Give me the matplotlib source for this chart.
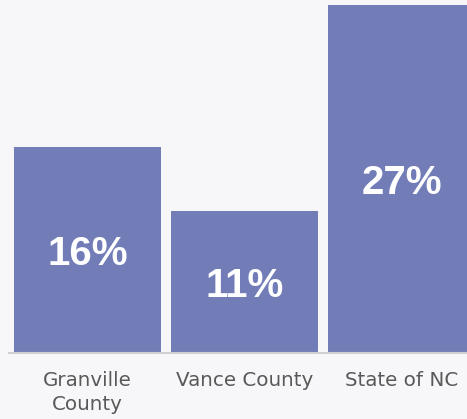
import matplotlib
matplotlib.use("Agg")
import matplotlib.pyplot as plt

categories = ["Granville\nCounty", "Vance County", "State of NC"]
values = [16, 11, 27]
labels = ["16%", "11%", "27%"]

bg = "#F7F7F9"
bar_color = "#727DB8"

fig = plt.figure(figsize=(4.67, 4.19), dpi=100, facecolor=bg)
ax = fig.add_axes([9 / 467, 66 / 419, 1 - 9 / 467, 353 / 419])
ax.set_facecolor(bg)

x = range(len(values))
bars = ax.bar(x, values, width=0.936, color=bar_color)

for b, lab in zip(bars, labels):
    ax.text(b.get_x() + b.get_width() / 2, b.get_height() / 2 - 0.3, lab,
            ha="center", va="center", color="white", fontsize=29,
            fontweight="bold", family="Liberation Sans")

ax.set_xlim(-0.5, 2.417)
ax.set_ylim(0, 27.36)
ax.set_yticks([])
ax.set_xticks(list(x))
ax.set_xticklabels(categories, fontsize=14.3, color="#595959",
                   family="DejaVu Sans", linespacing=1.3)
ax.tick_params(axis="x", length=0, pad=13)
for s in ["top", "right", "left"]:
    ax.spines[s].set_visible(False)
ax.spines["bottom"].set_color("#D0D0D0")
ax.spines["bottom"].set_linewidth(1.5)

fig.savefig("out.png", dpi=100, facecolor=bg)
